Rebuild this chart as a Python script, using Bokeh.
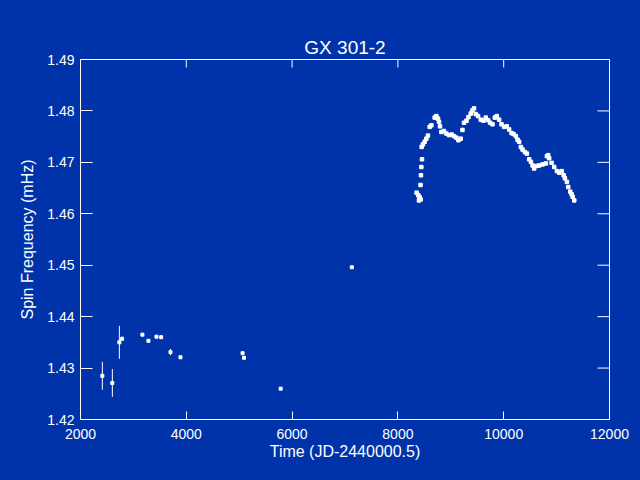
import math
from bokeh.plotting import figure
from bokeh.models import FixedTicker, ColumnDataSource
from bokeh.embed import file_html
from bokeh.resources import INLINE

BG = "#0033aa"
FONT = "Liberation Sans"

# Early (pre-BATSE) measurements with error bars
early_time = [2413, 2602, 2735, 2786, 3170, 3284, 3436, 3525, 3701, 3890, 5064, 5091, 5784, 7129]
early_freq = [1.4285, 1.4271, 1.4350, 1.4357, 1.4365, 1.4353, 1.4361, 1.4360, 1.4331, 1.4321,
              1.4329, 1.4320, 1.4260, 1.4496]
early_err = [0.0027, 0.0027, 0.0032, 0.0004, 0.0002, 0.0003, 0.0001, 0.0003, 0.0006, 0.0001,
             0.0001, 0.0001, 0.0001, 0.0001]

# BATSE era measurements
batse_time = [8354, 8387, 8398, 8411, 8430, 8428, 8436, 8443, 8455, 8449, 8474, 8506, 8538, 8568,
              8601, 8633, 8695, 8727, 8758, 8777, 8796, 8822, 8871, 8917, 8966, 9017, 9061, 9106,
              9144, 9188, 9220, 9250, 9296, 9334, 9377, 9409, 9440, 9472, 9515, 9567, 9618, 9661,
              9705, 9743, 9788, 9832, 9870, 9913, 9959, 10008, 10059, 10103, 10148, 10186, 10229,
              10262, 10292, 10324, 10356, 10400, 10438, 10481, 10514, 10546, 10576, 10627, 10671,
              10735, 10798, 10817, 10841, 10860, 10906, 10955, 11006, 11050, 11095, 11133, 11157,
              11195, 11220, 11258, 11284, 11303, 11334]
batse_freq = [1.4641, 1.4636, 1.4626, 1.4632, 1.4628, 1.4656, 1.4675, 1.4691, 1.4706, 1.4730,
              1.4735, 1.4740, 1.4746, 1.4752, 1.4769, 1.4772, 1.4787, 1.4790, 1.4785, 1.4779,
              1.4770, 1.4759, 1.4761, 1.4756, 1.4753, 1.4754, 1.4751, 1.4748, 1.4743, 1.4746,
              1.4763, 1.4777, 1.4781, 1.4788, 1.4795, 1.4801, 1.4805, 1.4794, 1.4790, 1.4783,
              1.4781, 1.4787, 1.4782, 1.4777, 1.4774, 1.4787, 1.4790, 1.4783, 1.4774, 1.4769,
              1.4770, 1.4764, 1.4757, 1.4755, 1.4751, 1.4744, 1.4740, 1.4730, 1.4725, 1.4720,
              1.4717, 1.4706, 1.4701, 1.4694, 1.4688, 1.4693, 1.4694, 1.4696, 1.4698, 1.4712,
              1.4714, 1.4708, 1.4699, 1.4691, 1.4683, 1.4680, 1.4683, 1.4675, 1.4669, 1.4662,
              1.4652, 1.4643, 1.4638, 1.4633, 1.4626]

x_ticks = [2000, 4000, 6000, 8000, 10000, 12000]
y_ticks = [1.42, 1.43, 1.44, 1.45, 1.46, 1.47, 1.48, 1.49]
x_lo, x_hi = 2000, 12000
y_lo, y_hi = 1.42, 1.49

p = figure(width=640, height=480, output_backend="svg", toolbar_location=None,
           x_range=(x_lo, x_hi), y_range=(y_lo, y_hi),
           min_border_left=80, min_border_right=31, min_border_top=59, min_border_bottom=61)

p.background_fill_color = BG
p.border_fill_color = BG
p.outline_line_color = "white"
p.outline_line_width = 1
p.xgrid.visible = False
p.ygrid.visible = False

p.title.text = "GX 301-2"
p.title.align = "center"
p.title.text_color = "white"
p.title.text_font = FONT
p.title.text_font_size = "19px"
p.title.text_font_style = "normal"
p.title.standoff = 4

def style_axis(ax, ticks, tick_len):
    ax.ticker = FixedTicker(ticks=ticks)
    ax.axis_line_color = "white"
    ax.major_tick_line_color = "white"
    ax.major_tick_in = tick_len
    ax.major_tick_out = 0
    ax.minor_tick_line_color = None
    ax.major_label_text_color = "white"
    ax.major_label_text_font = FONT
    ax.major_label_text_font_size = "14px"
    ax.axis_label_text_color = "white"
    ax.axis_label_text_font = FONT
    ax.axis_label_text_font_size = "16px"
    ax.axis_label_text_font_style = "normal"

style_axis(p.xaxis[0], x_ticks, 8)
style_axis(p.yaxis[0], y_ticks, 12)
p.xaxis[0].axis_label = "Time (JD-2440000.5)"
p.yaxis[0].axis_label = "Spin Frequency (mHz)"
p.xaxis[0].major_label_standoff = 9
p.yaxis[0].major_label_standoff = 6
p.xaxis[0].axis_label_standoff = 1
p.yaxis[0].axis_label_standoff = 8

# inward ticks on the top and right frame edges
p.ray(x=x_ticks, y=[y_hi] * len(x_ticks), length=8, length_units="screen",
      angle=-math.pi / 2, line_color="white", line_width=1)
p.ray(x=[x_hi] * len(y_ticks), y=y_ticks, length=12, length_units="screen",
      angle=math.pi, line_color="white", line_width=1)

src = ColumnDataSource(dict(t=early_time, f=early_freq,
                            lo=[f - e for f, e in zip(early_freq, early_err)],
                            hi=[f + e for f, e in zip(early_freq, early_err)]))
p.segment(x0="t", y0="lo", x1="t", y1="hi", source=src, line_color="white", line_width=1)
p.scatter("t", "f", source=src, marker="square", size=3, color="white")

p.scatter(batse_time, batse_freq, marker="square", size=3.5, color="white")

html = file_html(p, INLINE)
html = html.replace("<head>", "<head><style>html,body{background:%s;}</style>" % BG, 1)
open("out.html", "w").write(html)
